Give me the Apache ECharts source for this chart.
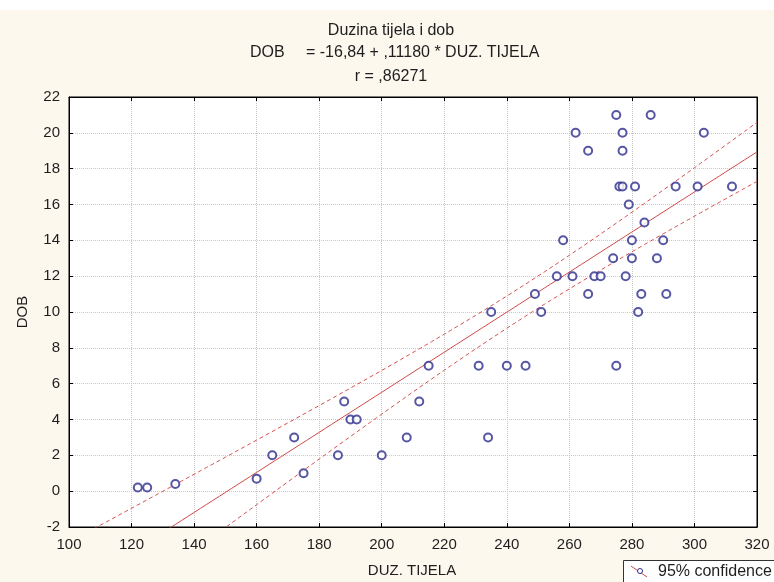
<!DOCTYPE html>
<html>
<head>
<meta charset="utf-8">
<script src="https://cdn.jsdelivr.net/npm/echarts@6/dist/echarts.min.js"></script>
<style>
html,body{margin:0;padding:0;background:#fff;}
#chart{width:774px;height:582px;}
</style>
</head>
<body>
<div id="chart"></div>
<script>
// Data (DUZ. TIJELA vs DOB)
const duzTijela = [122,125,134,160,165,172,175,186,188,190,192,200,208,212,215,231,234,235,240,246,249,251,256,258,261,262,266,266,268,270,274,275,275,276,277,277,277,278,279,280,280,281,282,283,284,286,288,290,291,294,301,303,312];
const dob =       [0.2,0.2,0.4,0.7,2,3,1,2,5,4,4,2,3,5,7,7,3,10,7,7,11,10,12,14,12,20,19,11,12,12,13,21,7,17,17,20,19,12,16,14,13,17,10,11,15,21,13,14,11,17,17,20,17];
const xTicks = [100,120,140,160,180,200,220,240,260,280,300,320];
const yTicks = [-2,0,2,4,6,8,10,12,14,16,18,20,22];
// Regression stated on the chart
const intercept = -16.84;
const slope = 0.11180;
const tCrit = 2.008;

const n = duzTijela.length;
const xMean = duzTijela.reduce((a,b)=>a+b,0)/n;
const sxx = duzTijela.reduce((a,x)=>a+(x-xMean)*(x-xMean),0);
const sse = duzTijela.reduce((a,x,i)=>a+Math.pow(dob[i]-(intercept+slope*x),2),0);
const s = Math.sqrt(sse/(n-2));

const fitLine=[], upper=[], lower=[];
for(let x=xTicks[0]; x<=xTicks[xTicks.length-1]; x+=2){
  const yh = intercept + slope*x;
  const hw = tCrit*s*Math.sqrt(1/n + (x-xMean)*(x-xMean)/sxx);
  fitLine.push([x,yh]); upper.push([x,yh+hw]); lower.push([x,yh-hw]);
}
const pts = duzTijela.map((x,i)=>[x,dob[i]]);

const FONT = '"Liberation Sans", Arial, sans-serif';
const TXT = '#1e1e1e';
const chart = echarts.init(document.getElementById('chart'));
chart.setOption({
  backgroundColor:'#fcf8ee',
  animation:false,
  grid:{left:69,right:17,top:97,bottom:55,show:true,backgroundColor:'#fff',borderColor:'#000',borderWidth:1},
  xAxis:[{
    type:'value',min:xTicks[0],max:xTicks[xTicks.length-1],interval:20,
    axisLine:{show:true,onZero:false,lineStyle:{color:'#000'}},
    axisTick:{show:true,inside:true,length:4,lineStyle:{color:'#000'}},
    axisLabel:{fontFamily:FONT,fontSize:15,color:TXT,margin:10},
    splitLine:{show:true,lineStyle:{color:'#c8c8c8',type:'dotted',width:1}}
  },{
    type:'value',position:'top',min:xTicks[0],max:xTicks[xTicks.length-1],interval:20,
    axisLine:{show:true,onZero:false,lineStyle:{color:'#000'}},
    axisTick:{show:true,inside:true,length:4,lineStyle:{color:'#000'}},
    axisLabel:{show:false},splitLine:{show:false}
  }],
  yAxis:[{
    type:'value',min:yTicks[0],max:yTicks[yTicks.length-1],interval:2,
    axisLine:{show:true,onZero:false,lineStyle:{color:'#000'}},
    axisTick:{show:true,inside:true,length:4,lineStyle:{color:'#000'}},
    axisLabel:{fontFamily:FONT,fontSize:15,color:TXT,margin:9},
    splitLine:{show:true,lineStyle:{color:'#c8c8c8',type:'dotted',width:1}}
  },{
    type:'value',position:'right',min:yTicks[0],max:yTicks[yTicks.length-1],interval:2,
    axisLine:{show:true,onZero:false,lineStyle:{color:'#000'}},
    axisTick:{show:true,inside:true,length:4,lineStyle:{color:'#000'}},
    axisLabel:{show:false},splitLine:{show:false}
  }],
  series:[
    {type:'line',data:upper,showSymbol:false,symbol:'none',clip:true,lineStyle:{color:'#d45050',width:1,type:[4,3]},z:2},
    {type:'line',data:lower,showSymbol:false,symbol:'none',clip:true,lineStyle:{color:'#d45050',width:1,type:[4,3]},z:2},
    {type:'line',data:fitLine,showSymbol:false,symbol:'none',clip:true,lineStyle:{color:'#d04848',width:1},z:3},
    {type:'scatter',data:pts,symbol:'emptyCircle',symbolSize:8,itemStyle:{color:'#2c2c8c',borderWidth:1.3},z:4}
  ],
  graphic:[
    {type:'rect',shape:{x:0,y:0,width:774,height:10},style:{fill:'#fff'},silent:true},
    {type:'text',x:391,y:31,style:{text:'Duzina tijela i dob',font:'16px '+FONT,fill:TXT,align:'center',verticalAlign:'middle'}},
    {type:'text',x:250,y:53,style:{text:'DOB',font:'16px '+FONT,fill:TXT,align:'left',verticalAlign:'middle'}},
    {type:'text',x:306,y:53,style:{text:'= -16,84 + ,11180 * DUZ. TIJELA',font:'16px '+FONT,fill:TXT,align:'left',verticalAlign:'middle'}},
    {type:'text',x:391,y:77,style:{text:'r = ,86271',font:'16px '+FONT,fill:TXT,align:'center',verticalAlign:'middle'}},
    {type:'text',x:412,y:571,style:{text:'DUZ. TIJELA',font:'15px '+FONT,fill:TXT,align:'center',verticalAlign:'middle'}},
    {type:'text',x:23,y:312,rotation:Math.PI/2,style:{text:'DOB',font:'15px '+FONT,fill:TXT,align:'center',verticalAlign:'middle'}},
    {type:'rect',shape:{x:623.5,y:560.5,width:160,height:40},style:{fill:'#fff',stroke:'#333',lineWidth:1}},
    {type:'line',shape:{x1:631,y1:566,x2:647,y2:577},style:{stroke:'#d04848',lineWidth:1}},
    {type:'circle',shape:{cx:640,cy:571,r:2.5},style:{fill:'#fff',stroke:'#2c2c8c',lineWidth:1}},
    {type:'text',x:658,y:572,style:{text:'95% confidence',font:'16px '+FONT,fill:TXT,align:'left',verticalAlign:'middle'}}
  ]
});
</script>
</body>
</html>
